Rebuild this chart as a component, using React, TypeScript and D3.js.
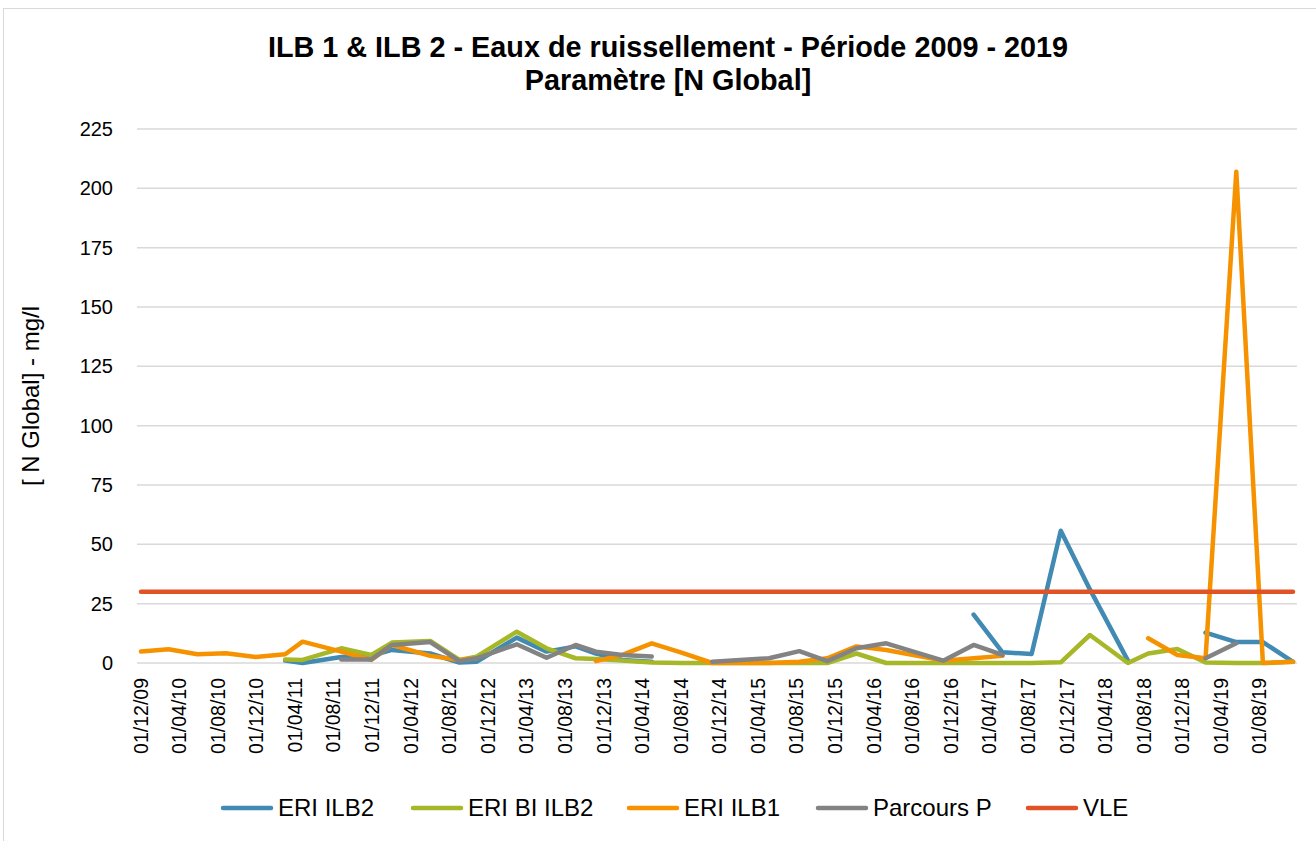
import * as d3 from 'd3';

// sampling dates (approximate)
const dates = [
  '2009-12-01', '2010-02-26', '2010-05-28', '2010-08-26', '2010-11-28',
  '2011-03-01', '2011-04-25', '2011-08-25', '2011-11-28', '2012-02-01',
  '2012-06-01', '2012-09-01', '2012-10-25', '2013-03-01', '2013-06-03',
  '2013-09-03', '2013-11-06', '2014-01-28', '2014-05-01', '2014-08-03',
  '2014-11-08', '2015-05-06', '2015-08-10', '2015-11-06', '2016-02-06',
  '2016-05-10', '2016-11-06', '2017-02-10', '2017-05-12', '2017-08-12',
  '2017-11-12', '2018-02-12', '2018-06-12', '2018-08-15', '2018-11-15',
  '2019-02-12', '2019-05-20', '2019-08-12', '2019-11-15',
];

const eriIlb2 = [
  null, null, null, null, null,
  1.0, 0, 2.5, 3.0, 5.5,
  4.0, 0.2, 0.5, 10.7, 4.8,
  7.0, 4.0, 1.3, 0.5, null,
  null, null, null, null, null,
  null, null, 20.4, 4.5, 3.8,
  55.7, 31, 1.0, null, null,
  12.8, 8.8, 8.8, 0.5,
];

const eriBiIlb2 = [
  null, null, null, null, null,
  1.5, 1.3, 6.2, 3.4, 8.6,
  9.3, 1.3, 2.7, 13.2, 6.2,
  2.0, 1.7, 1.0, 0.2, 0,
  0, 0, 0, 0, 4.0,
  0, 0, 0, 0, 0,
  0.3, 11.8, 0, 4.0, 5.9,
  0.2, 0, 0, 0.5,
];

const eriIlb1 = [
  4.8, 5.8, 3.7, 4.1, 2.5,
  3.7, 9.0, 4.8, 1.3, 7.6,
  3.0, 1.3, 2.0, null, null,
  null, 0.8, 3.4, 8.3, 4.4,
  0, 0, 0.5, 2.0, 7.0,
  5.5, 1.0, 2.0, 3.0, null,
  null, null, null, 10.4, 3.4,
  2.0, 207, 0, 0.5,
];

const parcoursP = [
  null, null, null, null, null,
  null, null, 1.5, 1.5, 7.6,
  8.8, 0.8, 2.0, 7.9, 2.2,
  7.6, 4.8, 3.4, 2.7, null,
  0.5, 2.0, 5.0, 0.8, 6.2,
  8.3, 1.0, 7.6, 3.4, null,
  null, null, null, null, null,
  2.0, 8.3, null, null,
];

const vle = [
  30, 30, 30, 30, 30, 30, 30, 30, 30, 30,
  30, 30, 30, 30, 30, 30, 30, 30, 30, 30,
  30, 30, 30, 30, 30, 30, 30, 30, 30, 30,
  30, 30, 30, 30, 30, 30, 30, 30, 30,
];

const seriesNames = ['ERI ILB2', 'ERI BI ILB2', 'ERI ILB1', 'Parcours P', 'VLE'];
const seriesValues = [eriIlb2, eriBiIlb2, eriIlb1, parcoursP, vle];
const seriesColors = ['#418ab3', '#a6b727', '#f69200', '#838383', '#df5327'];

const xTickLabels = [
  '01/12/09', '01/04/10', '01/08/10', '01/12/10', '01/04/11', '01/08/11',
  '01/12/11', '01/04/12', '01/08/12', '01/12/12', '01/04/13', '01/08/13',
  '01/12/13', '01/04/14', '01/08/14', '01/12/14', '01/04/15', '01/08/15',
  '01/12/15', '01/04/16', '01/08/16', '01/12/16', '01/04/17', '01/08/17',
  '01/12/17', '01/04/18', '01/08/18', '01/12/18', '01/04/19', '01/08/19',
];
const yTicks = [0, 25, 50, 75, 100, 125, 150, 175, 200, 225];

const W = 1316;
const H = 841;
const FONT = '"Liberation Sans", Arial, sans-serif';

export default function App() {
  const parseDate = d3.utcParse('%Y-%m-%d');
  const parseTick = d3.utcParse('%d/%m/%y');
  const dt = dates.map(d => parseDate(d) as Date);

  const x = d3.scaleUtc()
    .domain([dt[0], dt[dt.length - 1]])
    .range([141, 1293]);

  const y = d3.scaleLinear()
    .domain([0, 225])
    .range([663, 129]);

  const gridLeft = 137;
  const gridRight = 1297;

  const line = d3.line<number | null>()
    .defined(d => d != null)
    .x((_, i) => x(dt[i]))
    .y(d => y(d as number));

  // legend swatch positions
  const legendX = [221, 411, 627, 816, 1026];

  return (
    <svg width={W} height={H} style={{ position: 'absolute', left: 0, top: 0, background: '#fff' }}
      fontFamily={FONT}>
      <rect x={3.5} y={8.5} width={W + 10} height={H + 10} fill="#fff" stroke="#d9d9d9" strokeWidth={1} />

      {/* title */}
      <text x={668} y={57} textAnchor="middle" fontSize={28.8} fontWeight="bold" fill="#000">
        ILB 1 &amp; ILB 2 - Eaux de ruissellement - Période 2009 - 2019
      </text>
      <text x={668} y={90} textAnchor="middle" fontSize={28.8} fontWeight="bold" fill="#000">
        Paramètre [N Global]
      </text>

      {/* grid */}
      {yTicks.map(t => (
        <line key={t} x1={gridLeft} x2={gridRight} y1={y(t)} y2={y(t)} stroke="#d9d9d9" strokeWidth={1.5} />
      ))}

      {/* y labels */}
      {yTicks.map(t => (
        <text key={t} x={113} y={y(t)} dy="0.35em" textAnchor="end" fontSize={20} fill="#000">{t}</text>
      ))}
      <text transform={`translate(31,${(y(0) + y(225)) / 2}) rotate(-90)`} textAnchor="middle" dy="0.35em"
        fontSize={24} fill="#000">[ N Global] - mg/l</text>

      {/* x labels */}
      {xTickLabels.map(l => {
        const px = x(parseTick(l) as Date);
        return (
          <text key={l} transform={`translate(${px},678) rotate(-90)`} textAnchor="end" dy="0.35em"
            fontSize={19.5} fill="#000">{l}</text>
        );
      })}

      {/* series */}
      {seriesValues.map((vals, i) => (
        <path key={seriesNames[i]} d={line(vals) || ''} fill="none" stroke={seriesColors[i]}
          strokeWidth={4.5} strokeLinejoin="round" strokeLinecap="round" />
      ))}

      {/* legend */}
      {seriesNames.map((n, i) => (
        <g key={n} transform={`translate(${legendX[i]},808)`}>
          <line x1={2} x2={50} y1={0} y2={0} stroke={seriesColors[i]} strokeWidth={4.5} strokeLinecap="round" />
          <text x={57} y={0} dy="0.35em" fontSize={24} fill="#000">{n}</text>
        </g>
      ))}
    </svg>
  );
}
